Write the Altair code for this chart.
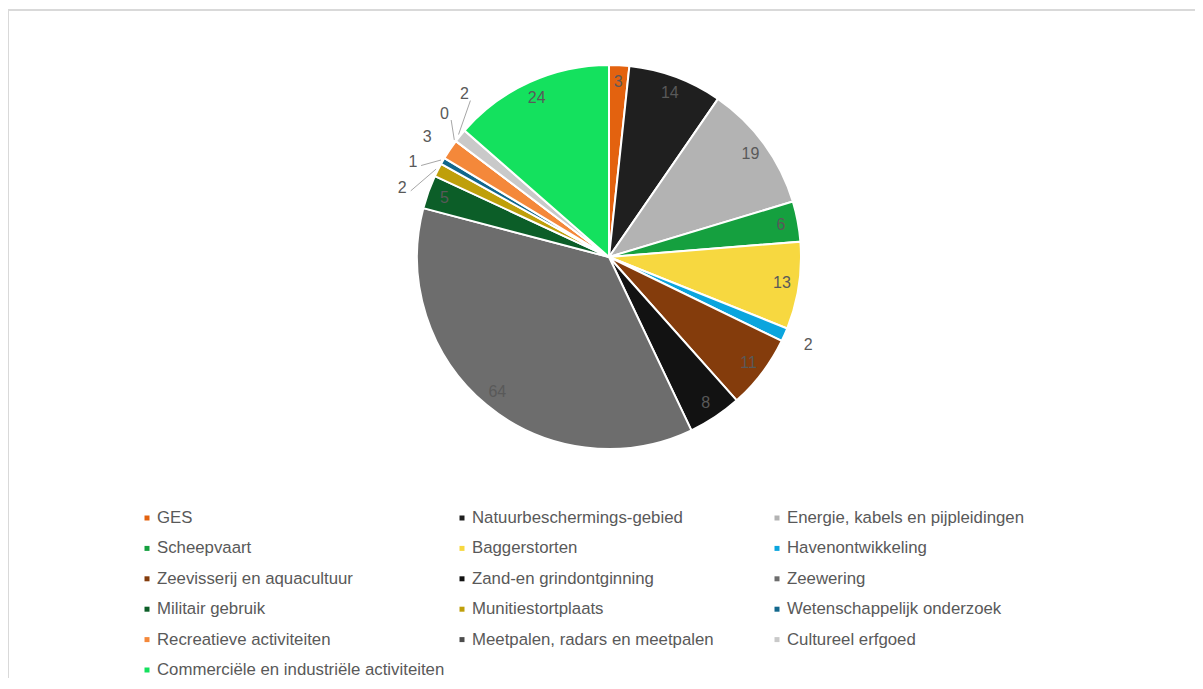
import math
import altair as alt
import pandas as pd

# ---- data ----
categories = [
    "GES",
    "Natuurbeschermings-gebied",
    "Energie, kabels en pijpleidingen",
    "Scheepvaart",
    "Baggerstorten",
    "Havenontwikkeling",
    "Zeevisserij en aquacultuur",
    "Zand-en grindontginning",
    "Zeewering",
    "Militair gebruik",
    "Munitiestortplaats",
    "Wetenschappelijk onderzoek",
    "Recreatieve activiteiten",
    "Meetpalen, radars en meetpalen",
    "Cultureel erfgoed",
    "Commerciële en industriële activiteiten",
]
values = [3, 14, 19, 6, 13, 2, 11, 8, 64, 5, 2, 1, 3, 0, 2, 24]
colors = [
    "#E3620F", "#1F1F1F", "#B3B3B3", "#15A03F", "#F7D840", "#0BA5DE",
    "#843C0C", "#121212", "#6D6D6D", "#0C5E28", "#BF9F0A", "#12678C",
    "#F4883A", "#4D4D4D", "#C9C9C9", "#14E15E",
]

# ---- layout (pixel units inside the view) ----
W, H = 1187, 668
CX, CY = 601, 247
R = 192
R_IN = 175
R_OUT = 218
SEP = 7.5
TEXT = "#595959"
FONT = "Liberation Sans"
FS = 16
LEG_FS = 16.8
LEG_X0, LEG_Y0 = 139, 508
LEG_DX, LEG_DY = 315, 30.4
LEG_COLS = 3

n = len(values)
total = sum(values)
df = pd.DataFrame({"idx": range(n), "cat": categories, "value": values})

# label geometry computed from the values
mids, cum = [], 0
for v in values:
    s = cum / total * 360
    cum += v
    e = cum / total * 360
    mids.append((s + e) / 2)

inside = []
for i, v in enumerate(values):
    nb = min(values[(i - 1) % n], values[(i + 1) % n])
    inside.append(v >= 3 and nb >= 2)

lab_ang = list(mids)
i = 0
while i < n:
    if not inside[i]:
        j = i
        while j + 1 < n and not inside[j + 1]:
            j += 1
        grp = list(range(i, j + 1))
        m = sum(mids[k] for k in grp) / len(grp)
        for q, k in enumerate(grp):
            lab_ang[k] = m + (q - (len(grp) - 1) / 2) * SEP
        i = j + 1
    else:
        i += 1


def pt(r, a):
    t = math.radians(a)
    return CX + r * math.sin(t), CY - r * math.cos(t)


lab_rows, lead_rows = [], []
for k in range(n):
    r = R_IN if inside[k] else R_OUT
    x, y = pt(r, lab_ang[k])
    lab_rows.append({"x": x, "y": y, "label": str(values[k])})
    if not inside[k] and abs(lab_ang[k] - mids[k]) > 3:
        x1, y1 = pt(R + 2, mids[k])
        x2, y2 = pt(R_OUT - 9, lab_ang[k])
        lead_rows.append({"x": x1, "y": y1, "x2": x2, "y2": y2})

labels = pd.DataFrame(lab_rows)
leaders = pd.DataFrame(lead_rows)

leg = pd.DataFrame({
    "cat": categories,
    "sx": [LEG_X0 + (k % LEG_COLS) * LEG_DX for k in range(n)],
    "tx": [LEG_X0 + 10 + (k % LEG_COLS) * LEG_DX for k in range(n)],
    "y": [LEG_Y0 + (k // LEG_COLS) * LEG_DY for k in range(n)],
})

xs = alt.Scale(domain=[0, W], nice=False, zero=False)
ys = alt.Scale(domain=[H, 0], nice=False, zero=False)
cscale = alt.Scale(domain=categories, range=colors)

pie = alt.Chart(df).mark_arc(outerRadius=R, stroke="white", strokeWidth=2).encode(
    theta=alt.Theta("value:Q", stack=True),
    order=alt.Order("idx:Q"),
    color=alt.Color("cat:N", sort=categories, scale=cscale, legend=None),
    x=alt.value(CX),
    y=alt.value(CY),
)

lead = alt.Chart(leaders).mark_rule(color="#A6A6A6", strokeWidth=1).encode(
    x=alt.X("x:Q", scale=xs, axis=None),
    y=alt.Y("y:Q", scale=ys, axis=None),
    x2="x2:Q",
    y2="y2:Q",
)

text = alt.Chart(labels).mark_text(
    fontSize=FS, font=FONT, color=TEXT, align="center", baseline="middle"
).encode(
    x=alt.X("x:Q", scale=xs, axis=None),
    y=alt.Y("y:Q", scale=ys, axis=None),
    text="label:N",
)

leg_sym = alt.Chart(leg).mark_square(size=25, opacity=1).encode(
    x=alt.X("sx:Q", scale=xs, axis=None),
    y=alt.Y("y:Q", scale=ys, axis=None),
    color=alt.Color("cat:N", sort=categories, scale=cscale, legend=None),
)

leg_txt = alt.Chart(leg).mark_text(
    fontSize=LEG_FS, font=FONT, color=TEXT, align="left", baseline="middle"
).encode(
    x=alt.X("tx:Q", scale=xs, axis=None),
    y=alt.Y("y:Q", scale=ys, axis=None),
    text="cat:N",
)

frame_top = alt.Chart(df).mark_rule(color="#D9D9D9", strokeWidth=1.5).encode(
    x=alt.value(0), x2=alt.value(W), y=alt.value(0)
)
frame_left = alt.Chart(df).mark_rule(color="#D9D9D9", strokeWidth=1.5).encode(
    x=alt.value(0), y=alt.value(0), y2=alt.value(H)
)

chart = (
    alt.layer(frame_top, frame_left, pie, lead, text, leg_sym, leg_txt)
    .properties(
        width=W,
        height=H,
        padding={"left": 0, "top": 2, "right": 0, "bottom": 0},
        autosize=alt.AutoSizeParams(type="none"),
        background="white",
    )
    .configure_view(stroke=None)
)

chart.save("out.html", embed_options={"renderer": "svg", "actions": False})
